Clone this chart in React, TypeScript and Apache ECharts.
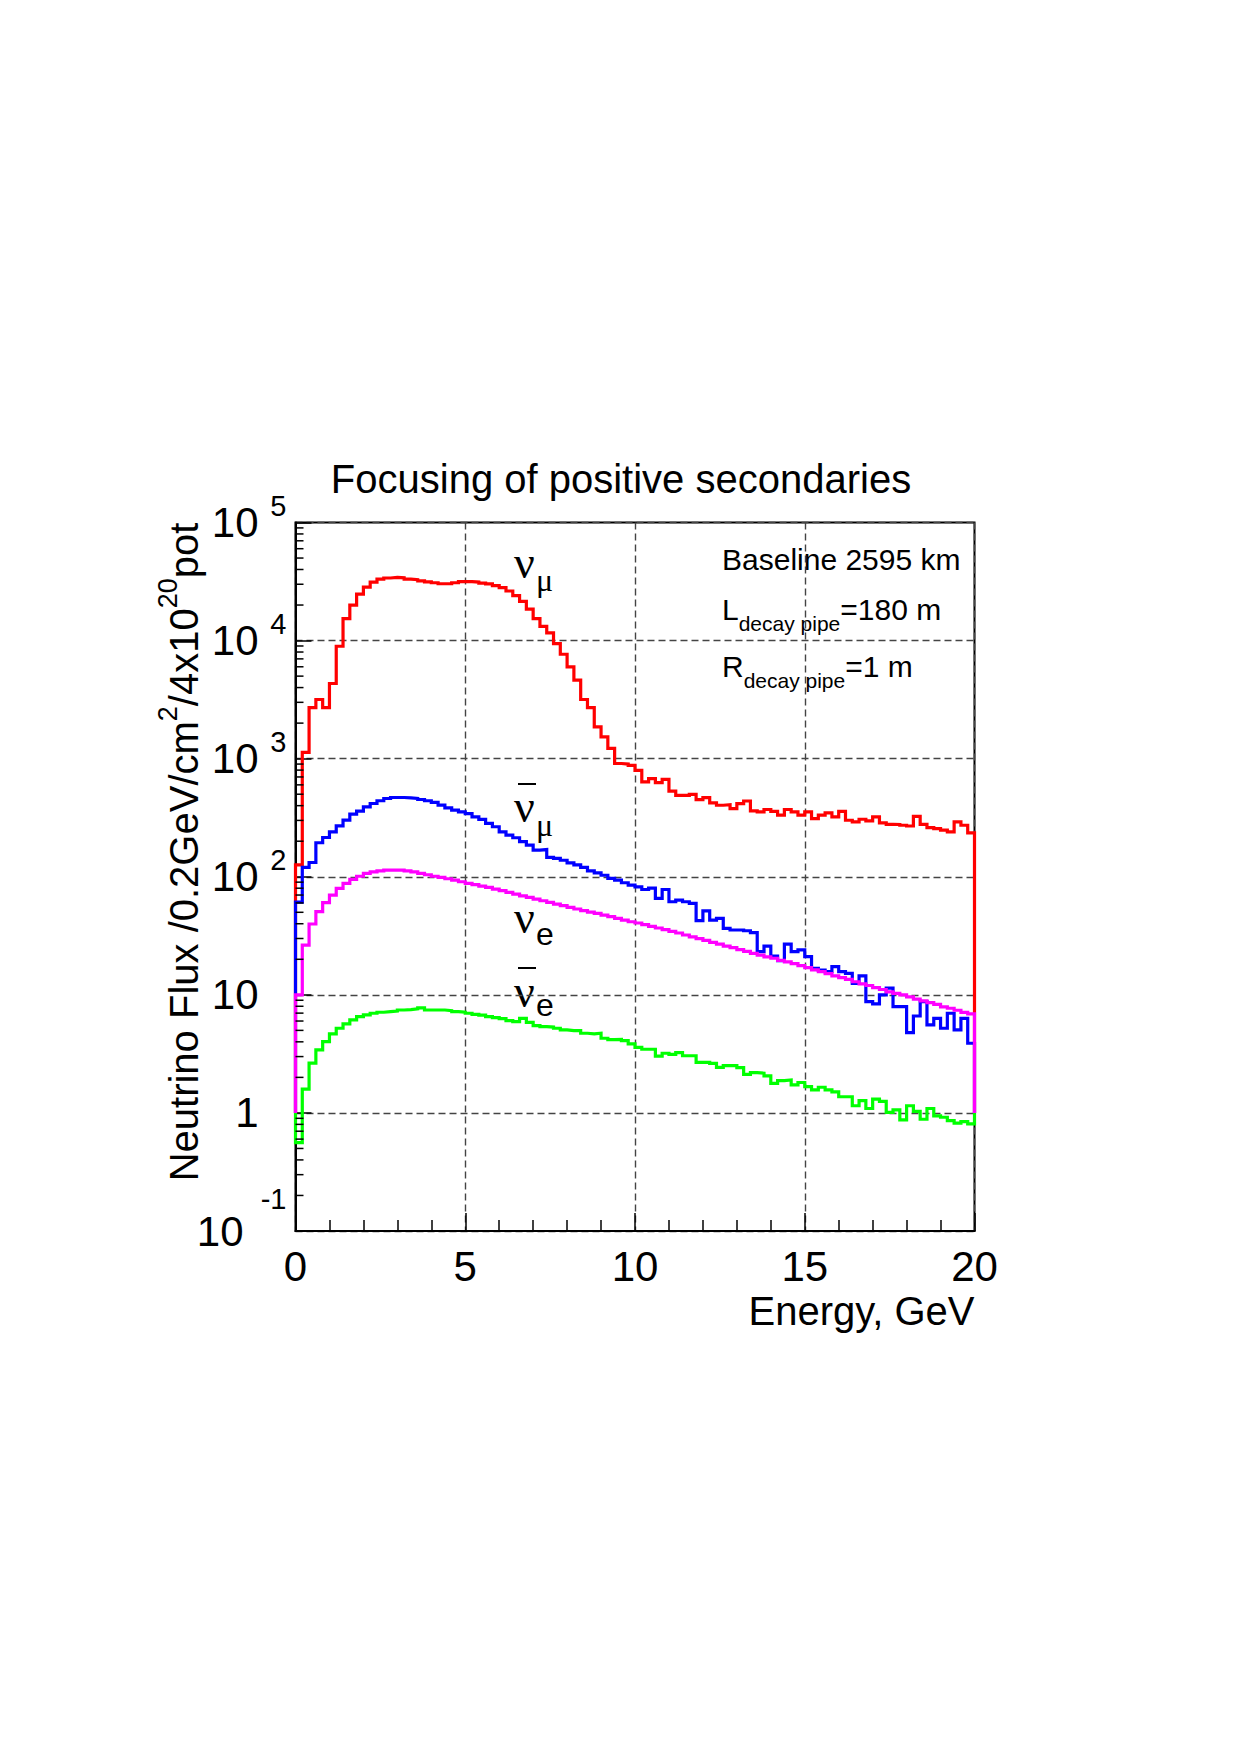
import React, { useEffect, useRef } from "react";
import * as echarts from "echarts";

// Histogram binning: 100 bins of 0.2 GeV from 0 to 20 GeV
const BIN_WIDTH = 0.2;
const FLOOR = 1; // outline drops to this level at both ends

// nu_mu flux per bin
const numu = [
  126, 1130, 2710, 3170, 2710, 4330, 8950, 15350, 20000, 24700,
  28400, 31300, 33200, 33900, 34300, 34000, 33200, 32800, 32000, 31400,
  30900, 30300, 30300, 30900, 31600, 31600, 31300, 30700, 30200, 29200,
  28100, 26300, 24000, 21500, 18500, 15350, 13200, 11600, 9440, 7660,
  5980, 4620, 3170, 2710, 1860, 1530, 1220, 910, 900, 879,
  796, 635, 678, 627, 668, 532, 489, 489, 499, 450,
  468, 422, 403, 408, 378, 416, 438, 361, 354, 371,
  358, 332, 371, 354, 332, 354, 311, 332, 347, 321,
  358, 301, 291, 307, 297, 321, 286, 278, 277, 273,
  269, 325, 278, 261, 256, 248, 240, 291, 273, 235,
];

// anti-nu_mu flux per bin
const numubar = [
  61, 120, 132, 194, 215, 240, 270, 302, 339, 359,
  391, 417, 440, 460, 469, 469, 466, 460, 451, 440,
  426, 404, 383, 366, 354, 343, 322, 306, 283, 265,
  240, 225, 214, 198, 185, 168, 170, 146, 143, 138,
  131, 126, 120, 112, 108, 103, 96.8, 93.7, 89, 85,
  82, 78, 80, 65.6, 78, 61.4, 63.5, 61.4, 59.5, 42.5,
  51.5, 43, 44.4, 36.6, 35.4, 35.4, 34.9, 33.6, 23.2, 25.9,
  21.3, 19.5, 26.9, 23.2, 24.0, 21.1, 16.8, 16.2, 15.7, 17.3,
  15.7, 15.2, 12.5, 14.5, 8.75, 8.37, 10, 11.4, 7.95, 7.95,
  4.79, 6.62, 8.75, 5.56, 6.33, 5.21, 6.98, 5.04, 6.33, 3.89,
];

// nu_e flux per bin
const nue = [
  10, 26.4, 39.8, 50.6, 60.3, 70, 79.7, 87.8, 94.9, 101,
  107, 110, 112, 114, 114, 114, 112, 110, 107, 104,
  101, 98.7, 96.2, 93.7, 90.7, 87.8, 85.6, 83.4, 81.3, 78.7,
  76.2, 73.7, 71.3, 69, 66.8, 64.7, 62.6, 60.7, 58.7, 56.9,
  55.1, 53.3, 51.6, 50.2, 49, 47.4, 45.9, 44.4, 43, 41.6,
  40.6, 39.3, 38, 36.8, 35.6, 34.5, 33.4, 32.1, 31, 29.9,
  28.9, 27.8, 26.9, 25.9, 25.1, 24.1, 23.3, 22.4, 21.7, 21,
  20.4, 19.6, 19, 18.4, 17.7, 17, 16.3, 15.7, 15.1, 14.5,
  14, 13.5, 12.9, 12.4, 12, 11.5, 11.1, 10.6, 10.3, 10,
  9.6, 9.2, 8.9, 8.6, 8.3, 7.9, 7.7, 7.4, 7.1, 6.9,
];

// anti-nu_e flux per bin
const nuebar = [
  0.56, 1.59, 2.64, 3.42, 4.02, 4.67, 5.21, 5.67, 6.13, 6.54,
  6.76, 6.98, 7.12, 7.21, 7.3, 7.44, 7.5, 7.6, 7.74, 7.44,
  7.44, 7.44, 7.35, 7.21, 7.12, 6.98, 6.84, 6.73, 6.54, 6.42,
  6.29, 6.05, 5.93, 6.33, 5.84, 5.48, 5.38, 5.33, 5.21, 5.04,
  4.98, 4.98, 4.73, 4.67, 4.73, 4.29, 4.17, 4.2, 4.09, 3.84,
  3.59, 3.46, 3.46, 3.03, 3.2, 3.13, 3.24, 3.05, 3.05, 2.68,
  2.68, 2.63, 2.43, 2.51, 2.51, 2.42, 2.12, 2.19, 2.17, 2.06,
  1.78, 1.88, 1.9, 1.73, 1.81, 1.67, 1.57, 1.65, 1.57, 1.51,
  1.37, 1.37, 1.15, 1.27, 1.09, 1.31, 1.25, 1.01, 1.06, 0.873,
  1.15, 1.03, 0.884, 1.09, 0.943, 0.919, 0.861, 0.818, 0.845, 0.807,
];

// Minor tick values for the logarithmic y axis (2..9 x each decade)
const yDecades = [-1, 0, 1, 2, 3, 4];
const yMinorTicks: number[] = [];
yDecades.forEach((d) => {
  for (let k = 2; k <= 9; k++) yMinorTicks.push(k * Math.pow(10, d));
});

const SANS = '"Liberation Sans", Arial, Helvetica, sans-serif';
const SERIF = '"Liberation Serif", "Times New Roman", "DejaVu Serif", serif';

// Step outline of a histogram: vertical edges at both ends down to FLOOR
function outline(values: number[]): [number, number][] {
  const pts: [number, number][] = [[0, FLOOR]];
  values.forEach((v, i) => {
    const lo = Math.round(i * BIN_WIDTH * 10) / 10;
    const hi = Math.round((i + 1) * BIN_WIDTH * 10) / 10;
    pts.push([lo, v], [hi, v]);
  });
  pts.push([Math.round(values.length * BIN_WIDTH * 10) / 10, FLOOR]);
  return pts;
}

function histSeries(name: string, values: number[], color: string, z: number) {
  return {
    name,
    type: "line",
    data: outline(values),
    showSymbol: false,
    symbol: "none",
    silent: true,
    z,
    lineStyle: { color, width: 3.2, join: "miter" },
    itemStyle: { color },
  };
}

const gridDash = { color: "#444", width: 1.4, type: [7, 4] };

export default function App() {
  const ref = useRef<HTMLDivElement>(null);

  useEffect(() => {
    if (!ref.current) return;
    const chart = echarts.init(ref.current, undefined, { renderer: "svg" });

    const nuLabel = (x: number, y: number, sub: string, subFont: string, subDy: number) => [
      {
        type: "text",
        x,
        y,
        style: { text: "ν", fontSize: 46, fontFamily: SERIF, fill: "#000", align: "left", verticalAlign: "middle" },
      },
      {
        type: "text",
        x: x + 22,
        y: y + subDy,
        style: { text: sub, fontSize: 32, fontFamily: subFont, fill: "#000", align: "left", verticalAlign: "middle" },
      },
    ];

    const option: any = {
      animation: false,
      backgroundColor: "#fff",
      grid: {
        left: 295.5,
        right: 265.5,
        top: 522.5,
        bottom: 524,
        show: true,
        borderColor: "#000",
        borderWidth: 2,
        backgroundColor: "transparent",
      },
      xAxis: {
        type: "value",
        min: 0,
        max: 20,
        interval: 5,
        axisLine: { show: true, onZero: false, lineStyle: { color: "#000", width: 2 } },
        axisTick: { show: true, inside: true, length: 18, lineStyle: { color: "#000", width: 1.5 } },
        minorTick: { show: true, splitNumber: 5, length: 11, lineStyle: { color: "#000", width: 1.5 } },
        splitLine: { show: true, lineStyle: gridDash },
        axisLabel: { margin: 14, fontSize: 42, color: "#000", fontFamily: SANS },
      },
      yAxis: {
        type: "log",
        logBase: 10,
        min: 0.1,
        max: 100000,
        splitNumber: 6,
        axisLine: { show: true, lineStyle: { color: "#000", width: 2 } },
        axisTick: { show: true, inside: true, length: 16, lineStyle: { color: "#000", width: 1.5 } },
        splitLine: { show: true, lineStyle: gridDash },
        axisLabel: {
          margin: 9,
          color: "#000",
          fontFamily: SANS,
          formatter: (v: number) => {
            const e = Math.round(Math.log10(v));
            if (e === 0) return "{b|1}{e| }";
            if (e === 1) return "{b|10}{e| }";
            if (e < 0) return `{b2|10}{n|${e}}`;
            return `{b|10}{e|${e}}`;
          },
          rich: {
            b: { fontSize: 42, lineHeight: 62, fontFamily: SANS, color: "#000", align: "left" },
            e: { fontSize: 29, lineHeight: 28, fontFamily: SANS, color: "#000", verticalAlign: "top", width: 28, align: "right" },
            b2: { fontSize: 42, lineHeight: 94, fontFamily: SANS, color: "#000", align: "left" },
            n: { fontSize: 29, lineHeight: 28, fontFamily: SANS, color: "#000", verticalAlign: "top", width: 43, align: "right" },
          },
        },
      },
      series: [
        // minor ticks of the log axis, placed through the axis scale
        {
          type: "custom",
          silent: true,
          z: 6,
          data: yMinorTicks.map((v) => [0, v]),
          renderItem: (_params: any, api: any) => {
            const p = api.coord([api.value(0), api.value(1)]);
            return {
              type: "line",
              shape: { x1: p[0], y1: p[1], x2: p[0] + 8, y2: p[1] },
              style: { stroke: "#000", lineWidth: 1.5 },
            };
          },
        },
        histSeries("numu", numu, "#ff0000", 2),
        histSeries("numubar", numubar, "#0000ff", 3),
        histSeries("nuebar", nuebar, "#00ff00", 4),
        histSeries("nue", nue, "#ff00ff", 5),
      ],
      graphic: [
        {
          type: "text",
          x: 621,
          y: 478.5,
          style: { text: "Focusing of positive secondaries", fontSize: 40, fontFamily: SANS, fill: "#000", align: "center", verticalAlign: "middle" },
        },
        {
          type: "text",
          x: 184,
          y: 852,
          rotation: Math.PI / 2,
          style: {
            text: "{t|Neutrino Flux /0.2GeV/cm}{s|2}{t|/4x10}{s|20}{t|pot}",
            fill: "#000",
            align: "center",
            verticalAlign: "middle",
            rich: {
              t: { fontSize: 40, lineHeight: 60, fontFamily: SANS, fill: "#000" },
              s: { fontSize: 27, lineHeight: 24, fontFamily: SANS, fill: "#000", verticalAlign: "top" },
            },
          },
        },
        {
          type: "text",
          x: 974.5,
          y: 1311,
          style: { text: "Energy, GeV", fontSize: 40, fontFamily: SANS, fill: "#000", align: "right", verticalAlign: "middle" },
        },
        {
          type: "text",
          x: 722,
          y: 559.5,
          style: { text: "Baseline 2595 km", fontSize: 30, fontFamily: SANS, fill: "#000", align: "left", verticalAlign: "middle" },
        },
        {
          type: "text",
          x: 722,
          y: 609.5,
          style: {
            text: "{m|L}{s|decay pipe}{m|=180 m}",
            fill: "#000",
            align: "left",
            verticalAlign: "middle",
            rich: {
              m: { fontSize: 30, lineHeight: 48, fontFamily: SANS, fill: "#000" },
              s: { fontSize: 21, lineHeight: 22, fontFamily: SANS, fill: "#000", verticalAlign: "bottom" },
            },
          },
        },
        {
          type: "text",
          x: 722,
          y: 666.5,
          style: {
            text: "{m|R}{s|decay pipe}{m|=1 m}",
            fill: "#000",
            align: "left",
            verticalAlign: "middle",
            rich: {
              m: { fontSize: 30, lineHeight: 48, fontFamily: SANS, fill: "#000" },
              s: { fontSize: 21, lineHeight: 22, fontFamily: SANS, fill: "#000", verticalAlign: "bottom" },
            },
          },
        },
        ...nuLabel(514, 562, "μ", SERIF, 18),
        ...nuLabel(514, 806, "μ", SERIF, 19),
        { type: "line", shape: { x1: 518, y1: 784, x2: 536, y2: 784 }, style: { stroke: "#000", lineWidth: 2 } },
        ...nuLabel(514, 917.5, "e", SANS, 16),
        ...nuLabel(514, 991, "e", SANS, 14),
        { type: "line", shape: { x1: 518, y1: 968, x2: 536, y2: 968 }, style: { stroke: "#000", lineWidth: 2 } },
      ],
    };

    chart.setOption(option);
    return () => chart.dispose();
  }, []);

  return (
    <div
      ref={ref}
      style={{ position: "absolute", left: 0, top: 0, width: 1240, height: 1755, background: "#fff" }}
    />
  );
}
